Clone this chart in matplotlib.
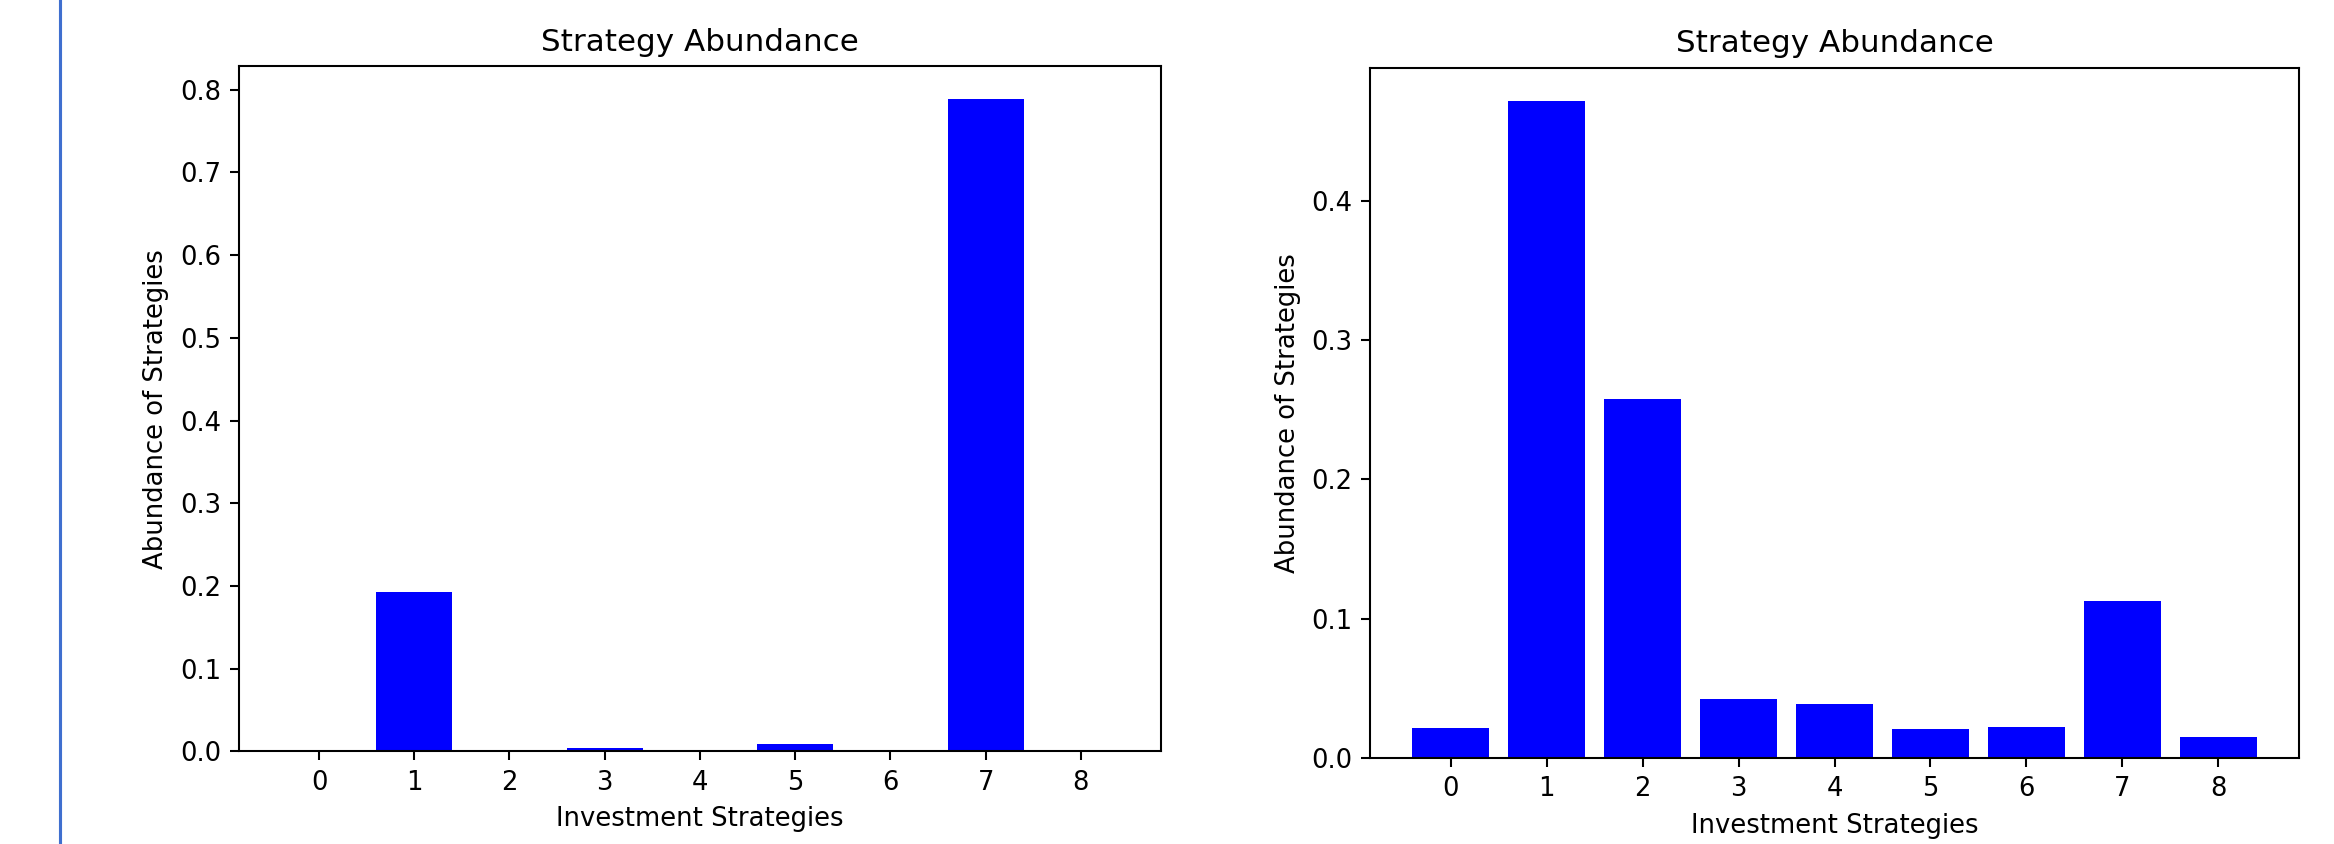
import matplotlib
matplotlib.use("Agg")
import matplotlib.pyplot as plt
from matplotlib.lines import Line2D

# strategy indices and abundances
strategies = list(range(9))
abundance_left = [0.0, 0.193, 0.0, 0.0048, 0.0, 0.0096, 0.0, 0.789, 0.0]
abundance_right = [0.022, 0.4716, 0.2575, 0.0422, 0.0393, 0.0207, 0.0222, 0.1127, 0.0155]

if __name__ == "__main__":
    dpi = 186
    fig = plt.figure(figsize=(2334 / dpi, 844 / dpi), dpi=dpi)

    ax1 = fig.add_axes([0.1024, 0.1096, 0.3950, 0.8122])
    ax2 = fig.add_axes([0.5870, 0.1015, 0.3980, 0.8182])

    for ax, vals in [(ax1, abundance_left), (ax2, abundance_right)]:
        ax.bar(strategies, vals, color='blue')
        ax.set_xticks(strategies)
        ax.set_title('Strategy Abundance')
        ax.set_xlabel('Investment Strategies')
        ax.set_ylabel('Abundance of Strategies')

    # blue rule on the left edge of the screenshot
    fig.add_artist(Line2D([60 / 2334, 60 / 2334], [0, 1], transform=fig.transFigure,
                          color='#3f6fcf', linewidth=1.2))

    fig.savefig('out.png', dpi=dpi)
